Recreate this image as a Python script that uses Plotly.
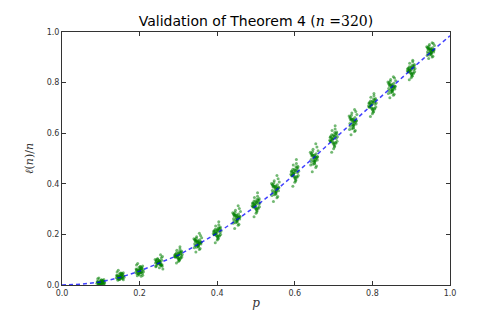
import plotly.graph_objects as go

# Probability values at which the experiment was repeated
p_values = [0.10, 0.15, 0.20, 0.25, 0.30, 0.35, 0.40, 0.45, 0.50,
            0.55, 0.60, 0.65, 0.70, 0.75, 0.80, 0.85, 0.90, 0.95]

# Mean of l(n)/n at each p
centers = [0.010, 0.033, 0.055, 0.087, 0.115, 0.165, 0.205, 0.265, 0.315,
           0.378, 0.440, 0.500, 0.575, 0.642, 0.710, 0.780, 0.848, 0.925]

# Deviation of each trial from the mean (thousandths), one list per p
trial_offsets = [
    [3, -5, 8, -2, 0, 12, -7, 4, -3, 6, -6, 1, 15, -4, 2, -1, 7, -6, 9, -8, 5, -3, 0, 4, -7, 11, -2, 3, -5, 6, 1, -8, 18, -4, 2, -1],
    [5, -8, 12, -3, 0, 15, -11, 6, -4, 9, -10, 2, 18, -6, 3, -1, 10, -7, 13, -14, 7, -4, 1, 5, -9, 14, -2, 4, -6, 8, 1, -12, 25, -5, 3, -2],
    [6, -10, 15, -4, 1, 20, -14, 8, -5, 11, -12, 3, 24, -7, 4, -2, 13, -9, 17, -18, 9, -5, 0, 6, -11, 18, -3, 5, -8, 10, 2, -16, 30, -6, 4, -20],
    [-4, 12, -9, 2, 17, -13, 5, 0, -6, 21, -2, 8, -15, 3, 26, -8, 1, 11, -19, 6, -3, 14, -10, 4, -1, 9, -24, 7, 2, -5, 16, -7, 0, 10, -12, 33],
    [8, -3, 14, -11, 1, 19, -6, 4, -16, 10, 0, -22, 7, 27, -4, 12, -8, 2, -13, 5, 17, -1, -9, 3, 22, -18, 6, -2, 11, -7, 0, 15, -28, 9, -5, 36],
    [-7, 15, 2, -12, 20, -3, 9, -18, 5, 0, 26, -9, 13, -25, 4, 11, -5, 31, -14, 7, -1, 18, -21, 3, 8, -6, 22, -10, 1, 14, -16, 6, -35, 10, -2, 40],
    [10, -4, 18, -13, 2, 24, -8, 6, -20, 13, 0, -27, 9, 33, -5, 15, -10, 3, -16, 7, 21, -1, -11, 4, 28, -23, 8, -3, 14, -9, 1, 19, -38, 11, -6, 45],
    [-9, 17, 3, -14, 23, -4, 11, -21, 6, 1, 30, -10, 15, -29, 5, 13, -6, 37, -17, 8, -2, 21, -25, 4, 10, -7, 26, -12, 2, 16, -19, 7, -42, 12, -3, 48],
    [11, -5, 20, -15, 3, 27, -9, 7, -22, 14, 0, -31, 10, 36, -6, 17, -12, 4, -18, 8, 24, -2, -13, 5, 31, -26, 9, -4, 16, -10, 1, 21, -45, 12, -7, 50],
    [-10, 19, 4, -16, 26, -5, 12, -24, 7, 1, 34, -11, 17, -33, 6, 14, -7, 42, -19, 9, -2, 23, -28, 5, 11, -8, 29, -13, 2, 18, -21, 8, -48, 13, -4, 55],
    [12, -6, 22, -17, 3, 29, -10, 8, -25, 15, 0, -34, 11, 40, -7, 18, -13, 4, -20, 9, 27, -2, -14, 5, 34, -29, 10, -4, 17, -11, 1, 23, -50, 13, -8, 56],
    [-11, 21, 4, -18, 28, -6, 13, -26, 8, 1, 37, -12, 18, -36, 6, 15, -8, 45, -21, 10, -3, 25, -30, 5, 12, -9, 31, -14, 2, 19, -23, 8, -52, 14, -4, 58],
    [13, -7, 23, -18, 3, 30, -11, 8, -26, 16, 0, -36, 12, 42, -7, 19, -14, 4, -21, 9, 28, -3, -15, 6, 36, -30, 11, -5, 18, -12, 1, 24, -50, 14, -8, 54],
    [-12, 22, 5, -19, 29, -6, 13, -27, 8, 1, 38, -13, 18, -35, 6, 15, -8, 44, -22, 10, -3, 26, -31, 5, 12, -9, 32, -15, 2, 20, -24, 9, -48, 14, -4, 52],
    [12, -6, 21, -16, 3, 27, -10, 7, -24, 14, 0, -33, 11, 38, -6, 17, -12, 4, -19, 8, 25, -2, -14, 5, 32, -27, 9, -4, 16, -11, 1, 22, -44, 13, -7, 47],
    [-10, 19, 4, -15, 25, -5, 11, -23, 7, 1, 32, -11, 15, -30, 5, 13, -7, 38, -18, 8, -2, 22, -26, 4, 10, -8, 27, -12, 2, 17, -20, 7, -40, 12, -3, 43],
    [10, -5, 18, -14, 2, 24, -8, 6, -21, 12, 0, -29, 9, 34, -5, 15, -10, 3, -16, 7, 21, -1, -12, 4, 28, -23, 8, -3, 14, -9, 1, 19, -37, 11, -6, 40],
    [-8, 15, 3, -12, 20, -4, 9, -18, 5, 1, 26, -9, 12, -24, 4, 10, -6, 30, -14, 6, -2, 17, -21, 3, 8, -6, 22, -10, 1, 13, -16, 6, -30, 9, -3, 33],
]

# Horizontal jitter of each trial (thousandths of p)
x_jitter = [2, -7, 5, 1, -4, 8, -1, -9, 3, 6, -3, 0, -8, 4, 9, -5, -2, 7,
            1, -6, 3, -10, 6, 0, -4, 2, 10, -7, -1, 5, -3, 8, -5, 1, -8, 4]

# Predicted curve of the theorem
curve_p = [0.00, 0.05, 0.10, 0.15, 0.20, 0.25, 0.30, 0.35, 0.40, 0.45, 0.50,
           0.55, 0.60, 0.65, 0.70, 0.75, 0.80, 0.85, 0.90, 0.95, 1.00]
curve_y = [0.000, 0.003, 0.012, 0.030, 0.055, 0.085, 0.118, 0.160, 0.205, 0.257, 0.312,
           0.372, 0.437, 0.505, 0.575, 0.645, 0.713, 0.783, 0.852, 0.920, 0.985]

xs, ys = [], []
for p, c, offs in zip(p_values, centers, trial_offsets):
    for dx, dy in zip(x_jitter, offs):
        xs.append(p + dx / 1000)
        ys.append(c + dy / 1000)

fig = go.Figure()
fig.add_trace(go.Scatter(
    x=xs, y=ys, mode="markers",
    marker=dict(color="#008000", size=3, opacity=0.55, line=dict(width=0)),
    showlegend=False, hoverinfo="skip",
))
fig.add_trace(go.Scatter(
    x=curve_p, y=curve_y, mode="lines",
    line=dict(color="rgba(0,0,255,0.75)", width=1.5, dash="4px,3px"),
    showlegend=False,
))

axis_common = dict(
    range=[0, 1], dtick=0.2, tickformat=".1f",
    ticks="inside", ticklen=4, tickcolor="#333",
    showline=True, linecolor="#333", linewidth=1, mirror="allticks",
    showgrid=False, zeroline=False,
    tickfont=dict(family="DejaVu Sans", size=8, color="#333"),
)

fig.update_layout(
    width=500, height=323,
    margin=dict(l=62, r=50, t=32, b=38),
    paper_bgcolor="white", plot_bgcolor="white",
    title=dict(
        text="Validation of Theorem 4 (<span style='font-family:DejaVu Serif'><i>n</i> =320</span>)",
        x=0.512, xanchor="center", y=0.935, yanchor="middle",
        font=dict(family="DejaVu Sans", size=14, color="black"),
    ),
    xaxis=dict(**axis_common,
               title=dict(text="<i>p</i>", standoff=2,
                          font=dict(family="DejaVu Serif", size=12, color="#333"))),
    yaxis=dict(**axis_common,
               title=dict(text="<i>ℓ</i>(<i>n</i>)/<i>n</i>", standoff=10,
                          font=dict(family="DejaVu Serif", size=11, color="#333"))),
)

fig.write_html("out.html")
